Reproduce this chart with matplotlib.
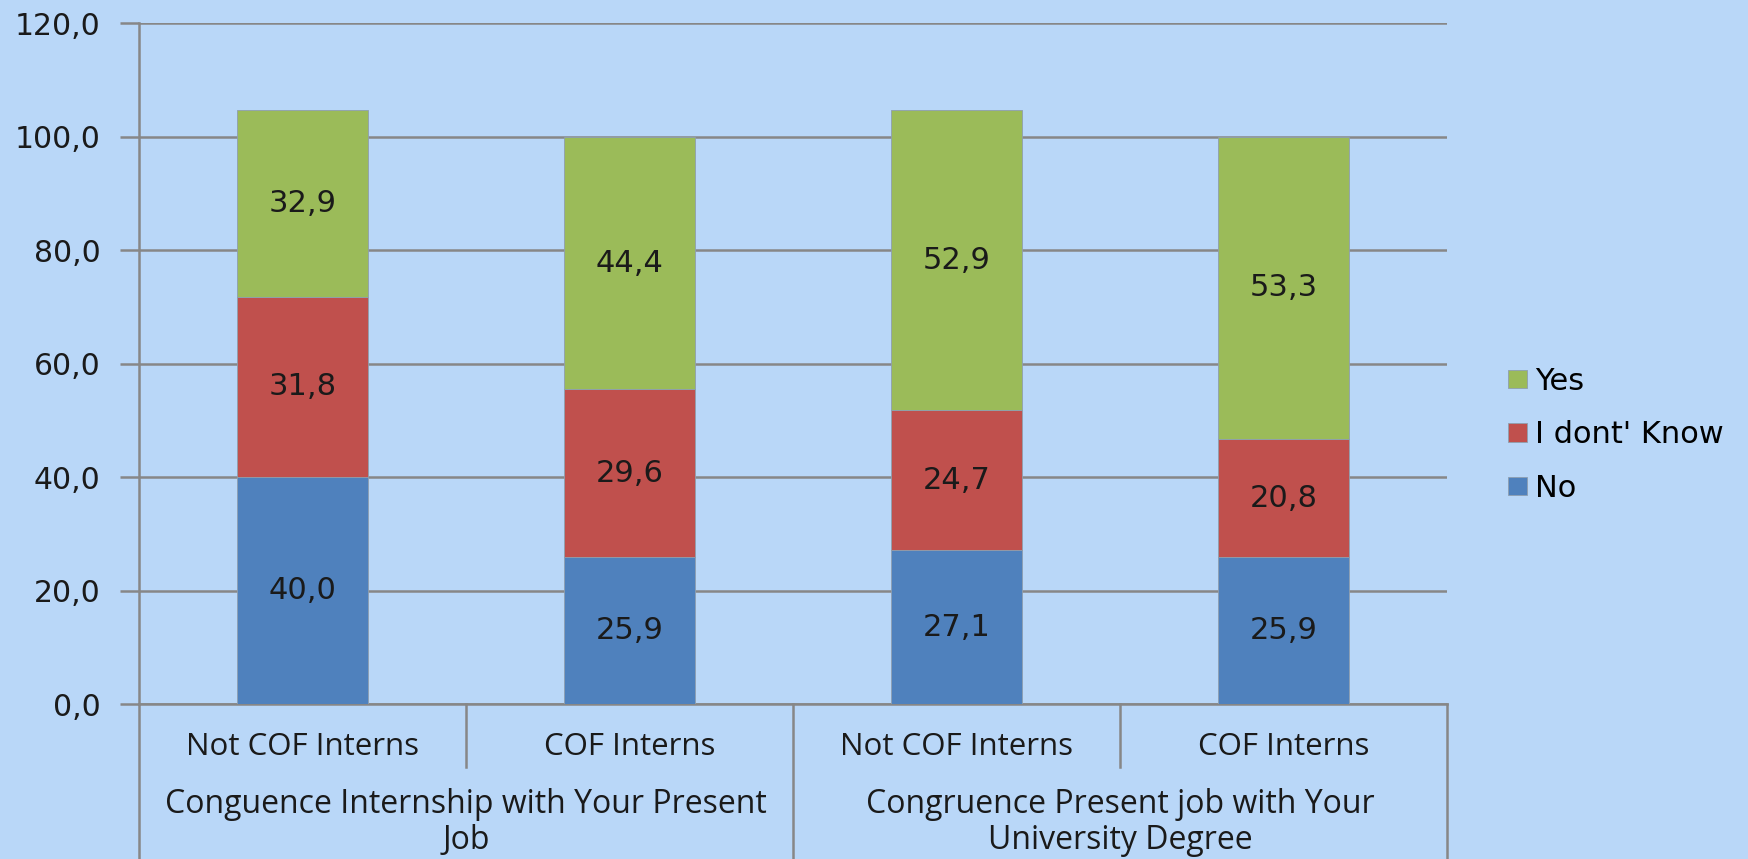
import matplotlib
matplotlib.use("Agg")
import matplotlib.pyplot as plt
from matplotlib.transforms import blended_transform_factory
from matplotlib.patches import Patch
import numpy as np

# Data
subcategories = ["Not COF Interns", "COF Interns", "Not COF Interns", "COF Interns"]
groups = ["Conguence Internship with Your Present\nJob",
          "Congruence Present job with Your\nUniversity Degree"]
no_vals = [40.0, 25.9, 27.1, 25.9]
dont_know_vals = [31.8, 29.6, 24.7, 20.8]
yes_vals = [32.9, 44.4, 52.9, 53.3]
series_names = ["No", "I dont' Know", "Yes"]
y_ticks = [0, 20, 40, 60, 80, 100, 120]

BG = "#B9D7F8"
GRID = "#878787"
COLORS = {"No": "#4F81BD", "I dont' Know": "#C0504D", "Yes": "#9BBB59"}

fig = plt.figure(figsize=(17.49, 8.59), dpi=100, facecolor=BG)
ax = fig.add_axes([0.0797, 0.1804, 0.8273 - 0.0797, 0.973 - 0.1804])
ax.set_facecolor(BG)

x = np.arange(len(subcategories))
width = 0.4
bottom = np.zeros(len(x))
for name, vals in zip(series_names, [no_vals, dont_know_vals, yes_vals]):
    vals = np.array(vals)
    ax.bar(x, vals, width, bottom=bottom, color=COLORS[name],
           edgecolor="#8E9FAF", linewidth=0.6, zorder=3, label=name)
    for xi, b, v in zip(x, bottom, vals):
        ax.text(xi, b + v / 2, f"{v:.1f}".replace(".", ","), ha="center",
                va="center", fontsize=22, color="#1a1a1a", zorder=4,
                family="DejaVu Sans")
    bottom += vals

ax.set_xlim(-0.5, 3.5)
ax.set_ylim(0, 120)
ax.set_yticks(y_ticks)
ax.set_yticklabels([f"{v:.1f}".replace(".", ",") for v in y_ticks],
                   fontsize=21.5, color="#1a1a1a")
ax.tick_params(axis="y", length=14, width=1.8, color=GRID, pad=14)
ax.set_xticks([])
ax.grid(axis="y", color=GRID, linewidth=1.8, zorder=0)
ax.set_axisbelow(True)
for side in ["top", "right"]:
    ax.spines[side].set_visible(False)
for side in ["left", "bottom"]:
    ax.spines[side].set_color(GRID)
    ax.spines[side].set_linewidth(1.8)

# Multi-level category axis below the plot
trans = blended_transform_factory(ax.transData, fig.transFigure)
y_axis = 0.1804
y_mid = 0.107
for xd, ybot in [(-0.5, 0.0), (0.5, y_mid), (1.5, 0.0), (2.5, y_mid), (3.5, 0.0)]:
    ax.plot([xd, xd], [y_axis, ybot], transform=trans, color=GRID,
            linewidth=1.8, clip_on=False, zorder=5)

for xi, lab in zip(x, subcategories):
    ax.text(xi, 0.130, lab, transform=trans, ha="center", va="center",
            fontsize=22.5, family="Open Sans", color="#1a1a1a")
for gi, lab in enumerate(groups):
    ax.text(0.5 + 2 * gi, 0.043, lab, transform=trans, ha="center",
            va="center", fontsize=23, family="Open Sans", color="#1a1a1a",
            linespacing=1.12)

handles = [Patch(facecolor=COLORS[n], edgecolor="#8E9FAF", linewidth=0.6)
           for n in ["Yes", "I dont' Know", "No"]]
fig.legend(handles, ["Yes", "I dont' Know", "No"], loc="center left",
           bbox_to_anchor=(0.855, 0.494), frameon=False, fontsize=22,
           handlelength=0.65, handleheight=0.55, handletextpad=0.25,
           labelspacing=0.8, borderaxespad=0)

fig.savefig("out.png", dpi=100, facecolor=BG)
